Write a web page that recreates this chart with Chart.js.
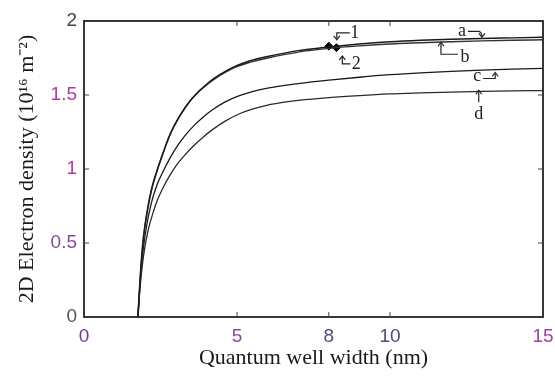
<!DOCTYPE html>
<html>
<head>
<meta charset="utf-8">
<script src="https://cdn.jsdelivr.net/npm/chart.js@4/dist/chart.umd.min.js"></script>
<style>
html,body{margin:0;padding:0;background:#fff;}
#wrap{width:555px;height:376px;position:relative;}
</style>
</head>
<body>
<div id="wrap"><canvas id="c" width="555" height="376"></canvas></div>
<script>
// ---- data ----
const xTicks = [0, 5, 8, 10, 15];
const yTicks = [0, 0.5, 1, 1.5, 2];
const xTickColors = ['#6a3a9a', '#8a4aa0', '#5a4a70', '#4a4a80', '#a040a0'];
const yTickColors = ['#555555', '#8a4a9a', '#b03aa8', '#b03aa8', '#444444'];

const aX = [1.76,1.8,1.85,1.92,2.05,2.2,2.4,2.6,2.8,3.1,3.5,4.1,4.8,5.4,6,7,8,9,10,11,12,13,14,15];
const aY = [0,0.15,0.32,0.5,0.7,0.86,1.0,1.12,1.23,1.35,1.47,1.59,1.68,1.73,1.76,1.80,1.825,1.845,1.86,1.87,1.877,1.882,1.886,1.89];
const bX = [1.77,1.81,1.86,1.93,2.06,2.21,2.41,2.61,2.81,3.11,3.51,4.11,4.81,5.41,6,7,8,9,10,11,12,13,14,15];
const bY = [0,0.15,0.32,0.5,0.7,0.86,1.0,1.12,1.23,1.35,1.47,1.585,1.675,1.72,1.75,1.79,1.815,1.832,1.845,1.853,1.86,1.866,1.87,1.873];
const cX = [1.76,1.8,1.85,1.93,2.05,2.2,2.4,2.6,2.8,3.0,3.3,3.6,3.9,4.2,4.6,5.1,5.5,6,6.5,7,8,9,10,11,12,13,14,15];
const cY = [0,0.13,0.28,0.45,0.62,0.77,0.9,0.99,1.07,1.14,1.225,1.295,1.352,1.4,1.452,1.497,1.523,1.546,1.563,1.577,1.6,1.62,1.637,1.65,1.66,1.668,1.675,1.68];
const dX = [1.76,1.8,1.86,1.95,2.1,2.25,2.4,2.6,2.8,3.0,3.3,3.6,3.9,4.2,4.6,5.1,5.5,6,6.5,7,8,9,10,11,12,13,14,15];
const dY = [0,0.12,0.26,0.42,0.59,0.7,0.79,0.88,0.955,1.02,1.095,1.16,1.217,1.266,1.322,1.375,1.405,1.432,1.45,1.463,1.482,1.496,1.507,1.514,1.52,1.525,1.528,1.53];
const markX = [8.0, 8.25];
const markY = [1.83, 1.82];

// annotation labels anchored in data units
const annLabels = ['1', '2', 'a', 'b', 'c', 'd'];
const annX = [8.85, 8.9, 12.35, 12.45, 12.85, 12.9];
const annY = [1.92, 1.71, 1.93, 1.755, 1.625, 1.37];

const toPts = (xs, ys) => xs.map((x, i) => ({x: x, y: ys[i]}));

const lineDs = (label, xs, ys, color, w) => ({
  label: label, data: toPts(xs, ys), borderColor: color, borderWidth: w,
  pointRadius: 0, showLine: true, fill: false, cubicInterpolationMode: 'monotone'
});

// plugin: frame, inward ticks, annotations with arrows
const decor = {
  id: 'decor',
  afterDatasetsDraw(chart) {
    const {ctx, chartArea: ca, scales} = chart;
    const xs = scales.x, ys = scales.y;
    ctx.save();
    ctx.strokeStyle = '#222';
    ctx.lineWidth = 1.8;
    ctx.strokeRect(ca.left, ca.top, ca.right - ca.left, ca.bottom - ca.top);
    ctx.lineWidth = 1;
    ctx.strokeStyle = '#444';
    const L = 5;
    xTicks.forEach(v => {
      if (v === 0 || v === 15) return;
      const p = xs.getPixelForValue(v);
      ctx.beginPath();
      ctx.moveTo(p, ca.bottom); ctx.lineTo(p, ca.bottom - L);
      ctx.moveTo(p, ca.top); ctx.lineTo(p, ca.top + L);
      ctx.stroke();
    });
    yTicks.forEach(v => {
      if (v === 0 || v === 2) return;
      const p = ys.getPixelForValue(v);
      ctx.beginPath();
      ctx.moveTo(ca.left, p); ctx.lineTo(ca.left + L, p);
      ctx.moveTo(ca.right, p); ctx.lineTo(ca.right - L, p);
      ctx.stroke();
    });
    ctx.fillStyle = '#222';
    ctx.font = '18px "Liberation Serif", serif';
    ctx.textAlign = 'center';
    ctx.textBaseline = 'middle';
    const P = annLabels.map((t, i) => {
      const px = xs.getPixelForValue(annX[i]);
      const py = ys.getPixelForValue(annY[i]);
      ctx.fillText(t, px, py);
      return [px, py];
    });
    ctx.strokeStyle = '#222';
    ctx.lineWidth = 1.2;
    const head = (x, y, dir) => {
      ctx.beginPath();
      if (dir === 'up') { ctx.moveTo(x - 3, y + 4); ctx.lineTo(x, y); ctx.lineTo(x + 3, y + 4); }
      if (dir === 'down') { ctx.moveTo(x - 3, y - 4); ctx.lineTo(x, y); ctx.lineTo(x + 3, y - 4); }
      ctx.stroke();
    };
    const poly = pts => { ctx.beginPath(); ctx.moveTo(pts[0][0], pts[0][1]); pts.slice(1).forEach(p => ctx.lineTo(p[0], p[1])); ctx.stroke(); };
    let [x1, y1] = P[0];
    poly([[x1 - 5, y1], [x1 - 18, y1], [x1 - 18, y1 + 6]]); head(x1 - 18, y1 + 7, 'down');
    let [x2, y2] = P[1];
    poly([[x2 - 6, y2], [x2 - 14, y2], [x2 - 14, y2 - 8]]); head(x2 - 14, y2 - 8, 'up');
    let [xa, ya] = P[2];
    ctx.beginPath(); ctx.moveTo(xa + 6, ya); ctx.lineTo(xa + 16, ya); ctx.quadraticCurveTo(xa + 20, ya, xa + 20, ya + 5); ctx.stroke(); head(xa + 20, ya + 6, 'down');
    let [xb, yb] = P[3];
    poly([[xb - 7, yb - 3], [xb - 24, yb - 3], [xb - 24, yb - 15]]); head(xb - 24, yb - 15, 'up');
    let [xc, yc] = P[4];
    poly([[xc + 6, yc + 2], [xc + 18, yc + 2], [xc + 18, yc - 3]]); head(xc + 18, yc - 4, 'up');
    let [xd, yd] = P[5];
    poly([[xd, yd - 12], [xd, yd - 24]]); head(xd, yd - 24, 'up');
    ctx.restore();
  }
};

new Chart(document.getElementById('c'), {
  type: 'scatter',
  data: {
    datasets: [
      lineDs('a', aX, aY, '#1a1a1a', 1.4),
      lineDs('b', bX, bY, '#333333', 1.4),
      lineDs('c', cX, cY, '#1a1a1a', 1.3),
      lineDs('d', dX, dY, '#2a2a2a', 1.3),
      {label: 'marks', data: toPts(markX, markY), showLine: false, pointStyle: 'rectRot',
       pointRadius: 4, backgroundColor: '#000', borderColor: '#000'}
    ]
  },
  options: {
    responsive: false,
    animation: false,
    layout: {padding: {left: 0, right: 12, top: 21, bottom: 0}},
    plugins: {legend: {display: false}, tooltip: {enabled: false}},
    scales: {
      x: {
        type: 'linear', min: 0, max: 15,
        afterBuildTicks: s => { s.ticks = xTicks.map(v => ({value: v})); },
        afterFit: s => { s.height = 59; s.paddingLeft = 0; s.paddingRight = 0; },
        grid: {display: false, drawTicks: false},
        border: {display: false},
        ticks: {
          padding: 8,
          font: {family: '"Liberation Sans", Arial, sans-serif', size: 19},
          color: c => xTickColors[xTicks.indexOf(c.tick.value)] || '#444'
        },
        title: {
          display: true, text: 'Quantum well width (nm)',
          font: {family: '"Liberation Serif", "Times New Roman", serif', size: 22},
          color: '#1a1a1a', padding: {top: 0, bottom: 5}
        }
      },
      y: {
        type: 'linear', min: 0, max: 2,
        afterBuildTicks: s => { s.ticks = yTicks.map(v => ({value: v})); },
        afterFit: s => { s.width = 84; s.paddingTop = 0; s.paddingBottom = 0; },
        grid: {display: false, drawTicks: false},
        border: {display: false},
        ticks: {
          padding: 7,
          font: {family: '"Liberation Sans", Arial, sans-serif', size: 19},
          color: c => yTickColors[yTicks.indexOf(c.tick.value)] || '#444',
          callback: v => String(v)
        },
        title: {
          display: true, text: '2D Electron density (10¹⁶ m⁻²)',
          font: {family: '"Liberation Serif", "Times New Roman", serif', size: 22},
          color: '#1a1a1a', padding: {top: 14, bottom: 0}
        }
      }
    }
  },
  plugins: [decor]
});
</script>
</body>
</html>
